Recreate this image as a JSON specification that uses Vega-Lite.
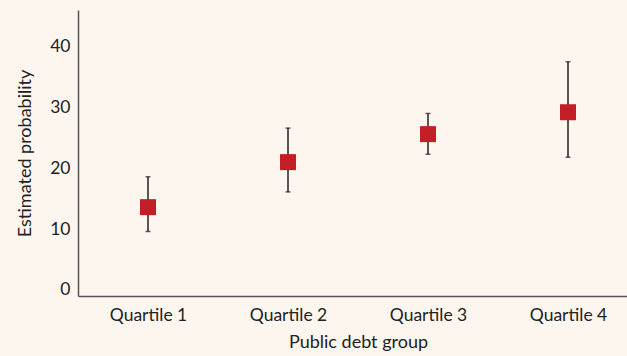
{
  "$schema": "https://vega.github.io/schema/vega-lite/v6.json",
  "autosize": {"type": "none"},
  "padding": {"left": 78, "top": 10, "right": 0, "bottom": 60},
  "width": 560,
  "height": 286,
  "background": "#fdf6ef",
  "config": {
    "view": {"stroke": null},
    "font": "Lato",
    "axis": {"grid": false, "ticks": false, "domainColor": "#555555", "domainWidth": 1.5, "labelColor": "#222222", "titleColor": "#222222", "labelFont": "Lato", "titleFont": "Lato", "labelFontSize": 17.5, "titleFontSize": 18, "titleFontWeight": "normal"}
  },
  "data": {"values": [
    {"group": "Quartile 1", "est": 13.6, "lo": 9.6, "hi": 18.6},
    {"group": "Quartile 2", "est": 21.0, "lo": 16.1, "hi": 26.6},
    {"group": "Quartile 3", "est": 25.6, "lo": 22.3, "hi": 29.0},
    {"group": "Quartile 4", "est": 29.2, "lo": 21.8, "hi": 37.5}
  ]},
  "encoding": {
    "x": {"field": "group", "type": "ordinal", "title": "Public debt group", "scale": {"type": "point", "padding": 0.5}, "axis": {"labelAngle": 0, "labelPadding": 10, "titlePadding": 10}}
  },
  "layer": [
    {
      "mark": {"type": "rule", "color": "#222222", "strokeWidth": 1.5},
      "encoding": {
        "y": {"field": "lo", "type": "quantitative", "title": "Estimated probability", "scale": {"domain": [-1, 46], "nice": false, "zero": false}, "axis": {"values": [0, 10, 20, 30, 40], "labelPadding": 8, "titlePadding": 15}},
        "y2": {"field": "hi"}
      }
    },
    {
      "mark": {"type": "tick", "color": "#222222", "size": 5, "thickness": 1.5},
      "encoding": {"y": {"field": "lo", "type": "quantitative"}}
    },
    {
      "mark": {"type": "tick", "color": "#222222", "size": 5, "thickness": 1.5},
      "encoding": {"y": {"field": "hi", "type": "quantitative"}}
    },
    {
      "mark": {"type": "square", "color": "#c11e26", "opacity": 1, "size": 256, "filled": true},
      "encoding": {"y": {"field": "est", "type": "quantitative"}}
    }
  ]
}
